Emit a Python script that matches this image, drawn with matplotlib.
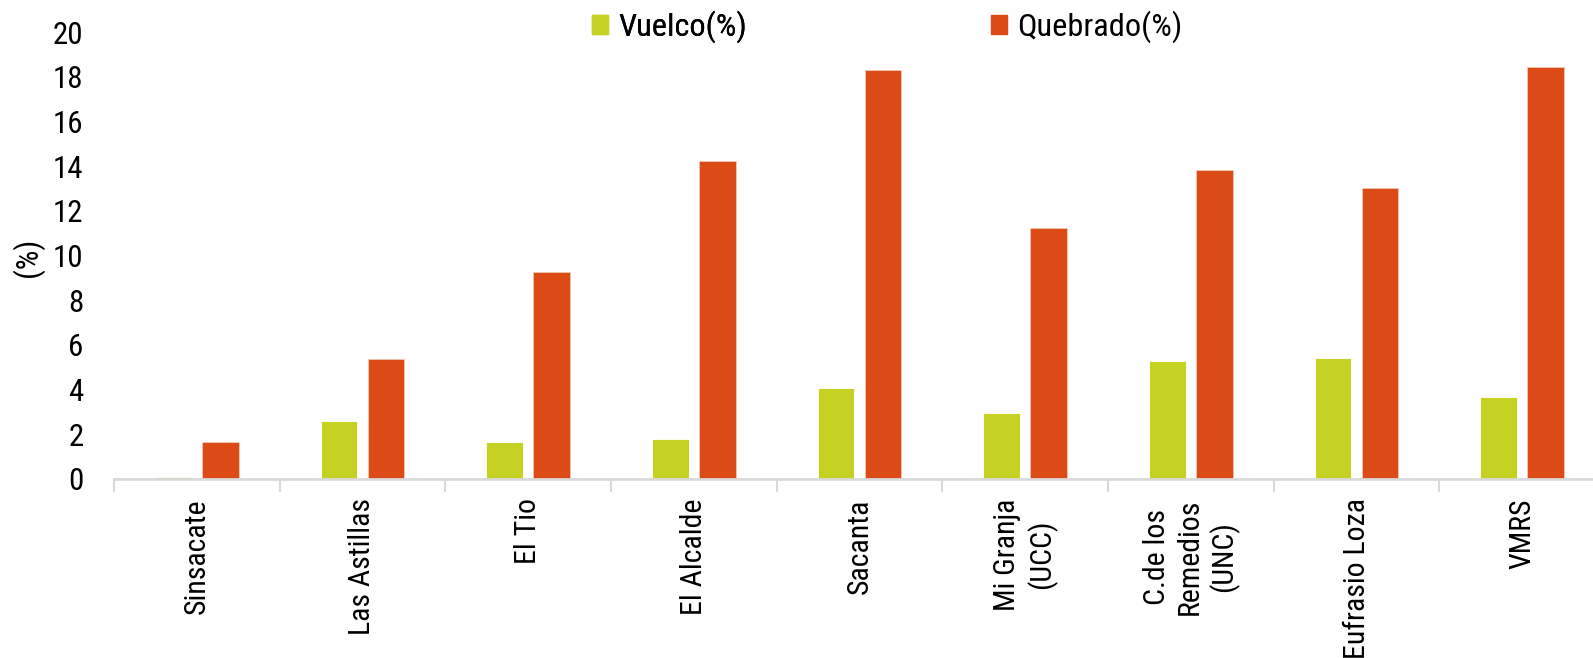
# vuelco / quebrado por sitio - gráfico de barras agrupadas
import numpy as np
import matplotlib
matplotlib.use("Agg")
import matplotlib.pyplot as plt
from matplotlib.patches import Patch

sitios = ["Sinsacate", "Las Astillas", "El Tio", "El Alcalde", "Sacanta",
          "Mi Granja\n(UCC)", "C.de los\nRemedios\n(UNC)", "Eufrasio Loza", "VMRS"]
vuelco = [0.08, 2.60, 1.67, 1.80, 4.07, 2.95, 5.28, 5.40, 3.65]
quebrado = [1.66, 5.36, 9.28, 14.23, 18.29, 11.23, 13.84, 13.03, 18.45]
yticks = list(range(0, 21, 2))

VERDE = "#C5D223"
ROJO = "#DC4B16"
GRIS = "#d9d9d9"
COND = ["Roboto Condensed", "Roboto", "DejaVu Sans"]
plt.rcParams["font.family"] = COND

W, H = 1593, 658
fig = plt.figure(figsize=(W / 100, H / 100), dpi=100)
ax = fig.add_axes([114 / W, (H - 479) / H, 1491 / W, 447 / H])

x = np.arange(len(sitios)) + 0.5
ancho = 0.223
ax.bar(x - 0.142, vuelco, ancho, color=VERDE, edgecolor="white", linewidth=0.6)
ax.bar(x + 0.142, quebrado, ancho, color=ROJO, edgecolor="#f0c8b8", linewidth=0.6)

ax.set_xlim(0, len(sitios))
ax.set_ylim(0, 20)

# ejes
for s in ["top", "right", "left"]:
    ax.spines[s].set_visible(False)
ax.spines["bottom"].set_color(GRIS)
ax.spines["bottom"].set_linewidth(2)

ax.set_xticks(np.arange(len(sitios) + 1))
ax.set_xticklabels([])
ax.tick_params(axis="x", which="major", length=9, width=1.5, color=GRIS)
ax.set_xticks(x, minor=True)
ax.set_xticklabels(sitios, minor=True, rotation=90, fontsize=21.5,
                   va="top", ha="center", multialignment="center", linespacing=1.2)
ax.tick_params(axis="x", which="minor", length=0, pad=14)

ax.set_yticks(yticks)
ax.set_yticklabels([str(v) for v in yticks], fontsize=22.3)
ax.tick_params(axis="y", length=0, pad=22)

fig.text(28 / W, 1 - 257 / H, "(%)", rotation=90, ha="center", va="center",
         fontsize=22.3)

# leyenda (dos bloques separados)
kw = dict(frameon=False, prop={"size": 23.3},
          handlelength=0.5, handleheight=0.55, handletextpad=0.3,
          borderpad=0, borderaxespad=0, loc="center left")
leg1 = fig.legend([Patch(color=VERDE)], ["Vuelco(%)"],
                  bbox_to_anchor=(592 / W, 1 - 27 / H), **kw)
fig.add_artist(leg1)
fig.legend([Patch(color=ROJO)], ["Quebrado(%)"],
           bbox_to_anchor=(991 / W, 1 - 27 / H), **kw)

fig.savefig("out.png", dpi=100)
